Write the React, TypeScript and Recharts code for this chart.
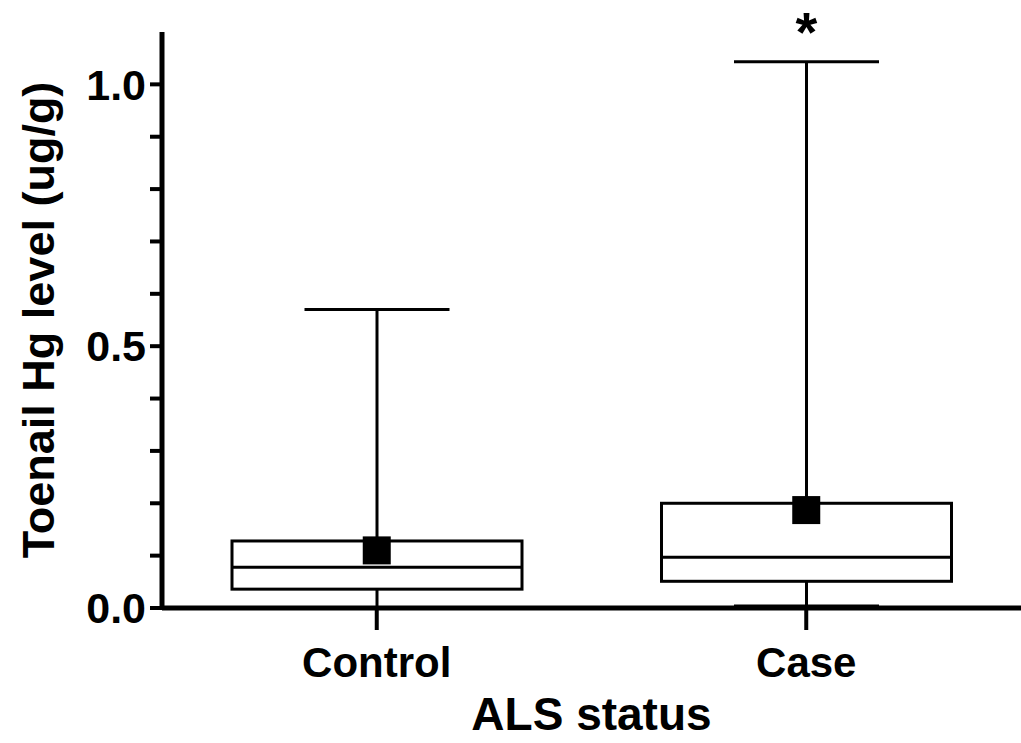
import { ComposedChart, Bar, Scatter, XAxis, YAxis, Label } from "recharts";

const groups = ["Control", "Case"];
const minVals = [0.0, 0.004];
const q1Vals = [0.036, 0.051];
const medianVals = [0.078, 0.097];
const q3Vals = [0.128, 0.2];
const maxVals = [0.57, 1.043];
const meanVals = [0.11, 0.187];
const marks = ["", "*"];
const yTicks = [0, 0.1, 0.2, 0.3, 0.4, 0.5, 0.6, 0.7, 0.8, 0.9, 1.0];
const labelledTicks = [0, 0.5, 1.0];

const data = groups.map((name, i) => ({
  name,
  range: [minVals[i], maxVals[i]],
  min: minVals[i],
  q1: q1Vals[i],
  median: medianVals[i],
  q3: q3Vals[i],
  max: maxVals[i],
  mean: meanVals[i],
  mark: marks[i],
}));

const FONT = "'Liberation Sans', Arial, sans-serif";

function BoxShape(props: any) {
  const { x, y, width, height, payload } = props;
  const { min, q1, median, q3, max, mark } = payload;
  const toY = (v: number) => y + (height * (max - v)) / (max - min);
  const cx = x + width / 2;
  const capHalf = width / 4;
  const sw = 3;
  return (
    <g>
      <line x1={cx} x2={cx} y1={toY(max)} y2={toY(q3)} stroke="#000" strokeWidth={sw} />
      <line x1={cx} x2={cx} y1={toY(q1)} y2={toY(min)} stroke="#000" strokeWidth={sw} />
      <line x1={cx - capHalf} x2={cx + capHalf} y1={toY(max)} y2={toY(max)} stroke="#000" strokeWidth={sw} />
      <line x1={cx - capHalf} x2={cx + capHalf} y1={toY(min)} y2={toY(min)} stroke="#000" strokeWidth={sw} />
      <rect x={x} y={toY(q3)} width={width} height={toY(q1) - toY(q3)} fill="#fff" stroke="#000" strokeWidth={sw} />
      <line x1={x} x2={x + width} y1={toY(median)} y2={toY(median)} stroke="#000" strokeWidth={sw} />
      {mark ? (
        <text x={cx} y={toY(max) - 11} textAnchor="middle" fontFamily={FONT} fontWeight="bold" fontSize={56} fill="#000">
          {mark}
        </text>
      ) : null}
    </g>
  );
}

function MeanSquare(props: any) {
  const { cx, cy } = props;
  const s = 28;
  return <rect x={cx - s / 2} y={cy - s / 2} width={s} height={s} fill="#000" />;
}

export default function App() {
  return (
    <div style={{ position: "absolute", left: 0, top: 0, background: "#fff" }}>
      <ComposedChart width={1021} height={743} data={data} margin={{ top: 32, right: 0, left: 0, bottom: 55 }}>
        <XAxis
          dataKey="name"
          height={80}
          axisLine={{ stroke: "#000", strokeWidth: 5 }}
          tickLine={{ stroke: "#000", strokeWidth: 4 }}
          tickSize={22}
          tickMargin={17}
          tick={{ fill: "#000", fontSize: 42, fontWeight: "bold", fontFamily: FONT }}
        >
          <Label
            content={(p: any) => {
              const vb = p.viewBox;
              return (
                <text x={vb.x + vb.width / 2} y={730} textAnchor="middle" fontFamily={FONT} fontWeight="bold" fontSize={46} fill="#000">
                  ALS status
                </text>
              );
            }}
          />
        </XAxis>
        <YAxis
          type="number"
          domain={[0, 1.1]}
          ticks={yTicks}
          width={162}
          interval={0}
          axisLine={{ stroke: "#000", strokeWidth: 5 }}
          tickLine={{ stroke: "#000", strokeWidth: 4 }}
          tickSize={12}
          tickMargin={4}
          tickFormatter={(v: number) => (labelledTicks.some((t) => Math.abs(t - v) < 1e-9) ? v.toFixed(1) : "")}
          tick={{ fill: "#000", fontSize: 43, fontWeight: "bold", fontFamily: FONT }}
        >
          <Label
            content={(p: any) => {
              const vb = p.viewBox;
              const cy = vb.y + vb.height / 2;
              return (
                <text
                  x={38}
                  y={cy}
                  transform={`rotate(-90, 38, ${cy})`}
                  textAnchor="middle"
                  dominantBaseline="central"
                  fontFamily={FONT}
                  fontWeight="bold"
                  fontSize={45}
                  fill="#000"
                >
                  Toenail Hg level (ug/g)
                </text>
              );
            }}
          />
        </YAxis>
        <Bar dataKey="range" barSize={290} shape={<BoxShape />} isAnimationActive={false} />
        <Scatter dataKey="mean" shape={<MeanSquare />} isAnimationActive={false} />
      </ComposedChart>
    </div>
  );
}
